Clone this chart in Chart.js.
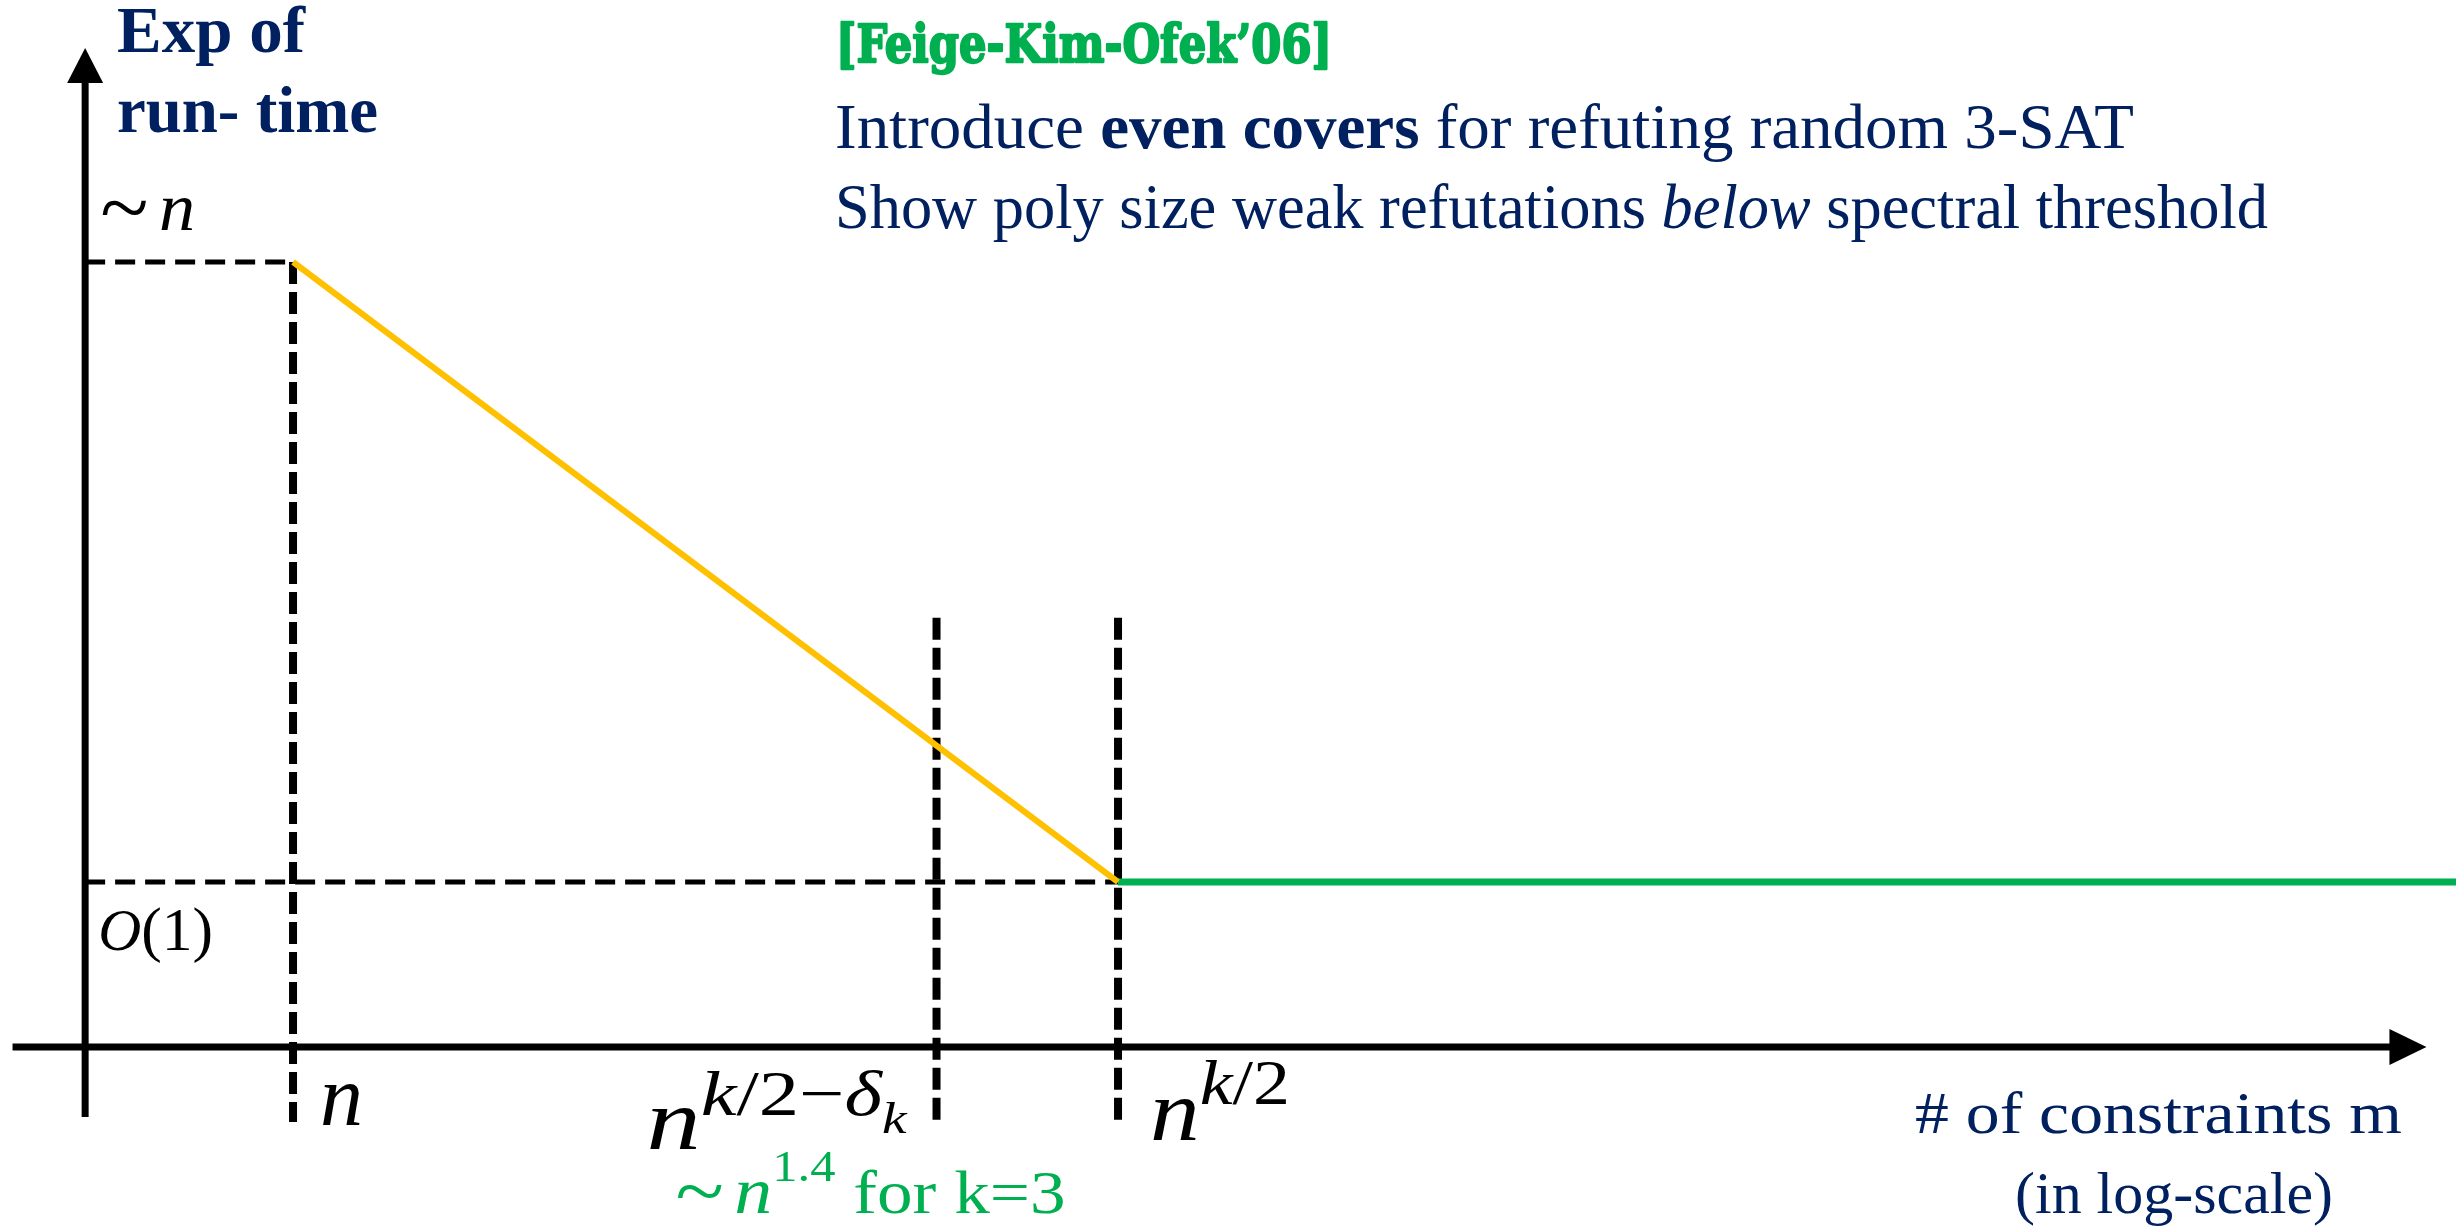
<!DOCTYPE html>
<html><head><meta charset="utf-8">
<script src="https://cdn.jsdelivr.net/npm/chart.js@4.4.1/dist/chart.umd.min.js"></script>
<style>html,body{margin:0;padding:0;background:#fff;overflow:hidden}canvas{display:block}</style>
</head><body>
<canvas id="c" width="2456" height="1228"></canvas>
<script>
// x = exponent of n in m (log-scale), y = exponent of n in run-time
const tickExp = [1, 1.39, 1.5];          // n, n^{k/2-δk}, n^{k/2}
const levelExp = [0, 1];                 // O(1), ~n
const orangeX = [1, 1.5];
const orangeY = [1, 0];
const greenX = [1.5, 2.32];
const greenY = [0, 0];
const guideTop = [1, 0.426, 0.426];      // where each vertical dashed guide starts

const NAVY = "#002060", GREEN = "#00B050", ORANGE = "#FFC000", INK = "#000";
const SERIF = '"Liberation Serif", serif';

// axis geometry in data units
const AX = {yAxisX: 0.874, xAxisY: -0.266, yTop: 1.345, yBottom: -0.379, xLeft: 0.83, xTip: 2.293, guideBottom: -0.387};

function pts(xs, ys){ return xs.map((x,i)=>({x:x, y:ys[i]})); }

function drawRuns(ctx, parts, x, y, w, sy, stroke){
  let total = 0;
  parts.forEach(p=>{ ctx.font = p.f; total += ctx.measureText(p.t).width; });
  const sx = w ? w/total : 1;
  ctx.save(); ctx.translate(x, y); ctx.scale(sx, sy||1);
  ctx.textBaseline = "alphabetic"; ctx.textAlign = "left";
  let cx = 0;
  parts.forEach(p=>{
    ctx.font = p.f; ctx.fillStyle = p.c;
    ctx.fillText(p.t, cx, p.dy||0);
    if(stroke){ ctx.strokeStyle = p.c; ctx.lineWidth = stroke; ctx.lineJoin = "round"; ctx.strokeText(p.t, cx, p.dy||0); }
    cx += ctx.measureText(p.t).width;
  });
  ctx.restore();
}

const sketch = {
  id: "sketch",
  beforeDatasetsDraw(chart){
    const ctx = chart.ctx, xs = chart.scales.x, ys = chart.scales.y;
    const X = v=>xs.getPixelForValue(v), Y = v=>ys.getPixelForValue(v);
    ctx.save();
    ctx.strokeStyle = INK;
    // horizontal dashed level guides
    ctx.lineWidth = 5; ctx.setLineDash([20,10]);
    [[levelExp[1], tickExp[0]], [levelExp[0], tickExp[2]]].forEach(([ly, tx])=>{
      ctx.beginPath(); ctx.moveTo(X(AX.yAxisX), Y(ly)); ctx.lineTo(X(tx), Y(ly)); ctx.stroke();
    });
    // vertical dashed guides
    ctx.lineWidth = 8; ctx.setLineDash([22,8]);
    tickExp.forEach((t,i)=>{
      ctx.beginPath(); ctx.moveTo(X(t), Y(guideTop[i])); ctx.lineTo(X(t), Y(AX.guideBottom)); ctx.stroke();
    });
    ctx.setLineDash([]);
    // axes
    ctx.lineWidth = 7; ctx.fillStyle = INK;
    ctx.beginPath(); ctx.moveTo(X(AX.yAxisX), Y(AX.yBottom)); ctx.lineTo(X(AX.yAxisX), Y(AX.yTop)+30); ctx.stroke();
    ctx.beginPath(); ctx.moveTo(X(AX.yAxisX), Y(AX.yTop)); ctx.lineTo(X(AX.yAxisX)-18, Y(AX.yTop)+35); ctx.lineTo(X(AX.yAxisX)+18, Y(AX.yTop)+35); ctx.closePath(); ctx.fill();
    ctx.beginPath(); ctx.moveTo(X(AX.xLeft), Y(AX.xAxisY)); ctx.lineTo(X(AX.xTip)-30, Y(AX.xAxisY)); ctx.stroke();
    ctx.beginPath(); ctx.moveTo(X(AX.xTip), Y(AX.xAxisY)); ctx.lineTo(X(AX.xTip)-37, Y(AX.xAxisY)-18); ctx.lineTo(X(AX.xTip)-37, Y(AX.xAxisY)+18); ctx.closePath(); ctx.fill();
    ctx.restore();
  },
  afterDraw(chart){
    const ctx = chart.ctx, xs = chart.scales.x, ys = chart.scales.y;
    const X = v=>xs.getPixelForValue(v), Y = v=>ys.getPixelForValue(v);
    const ax = X(AX.yAxisX);
    const B = s=>"bold "+s+"px "+SERIF, R = s=>s+"px "+SERIF, I = s=>"italic "+s+"px "+SERIF;
    // y axis title
    drawRuns(ctx, [{t:"Exp of", f:B(66), c:NAVY}], 117, 52, 188);
    drawRuns(ctx, [{t:"run- time", f:B(66), c:NAVY}], 117, 132, 261);
    // level labels
    drawRuns(ctx, [{t:"~", f:R(84), c:INK, dy:6}, {t:" ", f:R(40), c:INK}, {t:"n", f:I(68), c:INK}], ax+15, Y(levelExp[1])-32, 95);
    drawRuns(ctx, [{t:"O", f:I(60), c:INK}, {t:"(1)", f:R(62), c:INK}], ax+13, Y(levelExp[0])+68, 115);
    // tick labels
    const bx = Y(AX.xAxisY);
    drawRuns(ctx, [{t:"n", f:I(86), c:INK}], X(tickExp[0])+27, bx+78, 43);
    drawRuns(ctx, [{t:"n", f:I(86), c:INK}, {t:"k", f:I(64), c:INK, dy:-34}, {t:"/2\u2212", f:R(64), c:INK, dy:-34},
                   {t:"\u03b4", f:I(64), c:INK, dy:-34}, {t:"k", f:I(44), c:INK, dy:-16}], X(tickExp[1])-290, bx+102, 260);
    drawRuns(ctx, [{t:"n", f:I(86), c:INK}, {t:"k", f:I(64), c:INK, dy:-36}, {t:"/2", f:R(64), c:INK, dy:-36}], X(tickExp[2])+32, bx+93, 140);
    drawRuns(ctx, [{t:"~", f:R(78), c:GREEN, dy:4}, {t:" ", f:R(36), c:GREEN}, {t:"n", f:I(66), c:GREEN}, {t:"1.4", f:R(44), c:GREEN, dy:-32},
                   {t:" for k=3", f:R(62), c:GREEN}], X(tickExp[1])-261, bx+166, 390);
    // x axis title
    drawRuns(ctx, [{t:"# of constraints m", f:R(60), c:NAVY}], 1915, 1133, 487);
    drawRuns(ctx, [{t:"(in log-scale)", f:R(60), c:NAVY}], 2015, 1213, 318);
    // citation and notes
    drawRuns(ctx, [{t:"[Feige-Kim-Ofek\u201906]", f:'bold 46px "DejaVu Serif", serif', c:GREEN}], 836, 62, 496, 1.15, 2);
    drawRuns(ctx, [{t:"Introduce ", f:R(63), c:NAVY}, {t:"even covers", f:B(63), c:NAVY}, {t:" for refuting random 3-SAT", f:R(63), c:NAVY}], 835, 148, 1299);
    drawRuns(ctx, [{t:"Show poly size weak refutations ", f:R(63), c:NAVY}, {t:"below", f:I(63), c:NAVY}, {t:" spectral threshold", f:R(63), c:NAVY}], 835, 228, 1433);
  }
};

new Chart(document.getElementById("c").getContext("2d"), {
  type: "line",
  data: { datasets: [
    {data: pts(orangeX, orangeY), borderColor: ORANGE, borderWidth: 6, pointRadius: 0, clip: false, tension: 0},
    {data: pts(greenX, greenY), borderColor: GREEN, borderWidth: 7, pointRadius: 0, clip: false, tension: 0}
  ]},
  options: {
    responsive: false, animation: false, devicePixelRatio: 1,
    layout: {padding: 0},
    plugins: {legend: {display: false}, tooltip: {enabled: false}},
    scales: {
      x: {type: "linear", display: false, min: 0.8224, max: 2.3109},
      y: {type: "linear", display: false, min: -0.5581, max: 1.4226}
    }
  },
  plugins: [sketch]
});
</script>
</body></html>
